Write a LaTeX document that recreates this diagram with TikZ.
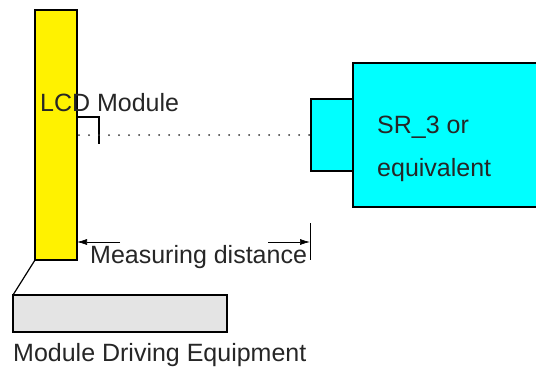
\documentclass[tikz,border=0pt]{standalone}
\usepackage{fontspec}
\setmainfont{Liberation Sans}
\usetikzlibrary{arrows.meta}
\definecolor{aqua}{RGB}{0,255,255}
\definecolor{panel}{RGB}{228,228,228}
\begin{document}
\begin{tikzpicture}[x=1pt,y=-1pt,
  box/.style={draw=black,line width=2pt,inner sep=0pt,outer sep=0pt},
  lbl/.style={inner sep=0pt,font=\fontsize{25}{30}\selectfont,text=black!85},
  dim/.style={line width=0.7pt,-{Latex[length=10pt,width=6pt]}}]
\useasboundingbox (0,0) rectangle (536,372);
% LCD module
\node[box,fill=yellow,minimum width=42pt,minimum height=250pt,anchor=north west] (lcd) at (35,10) {};
% driving equipment
\node[box,fill=panel,minimum width=214pt,minimum height=37pt,anchor=north west] (eq) at (13,295) {};
\draw[line width=1.2pt] (lcd.south west) -- (eq.north west);
% SR_3
\node[box,fill=aqua,minimum width=190pt,minimum height=144pt,anchor=north west] (sr) at (353,63) {};
\node[box,fill=aqua,minimum width=42pt,minimum height=72pt,anchor=north east] (lens) at (353,99) {};
% texts
\node[lbl,anchor=west] (tlcd) at (40,103) {LCD Module};
\node[lbl,anchor=west] (tsr1) at (377,127) {SR\_3 or};
\node[lbl,anchor=west] (tsr2) at (377,170) {equivalent};
\node[lbl,anchor=west] (teq) at (13,355) {Module Driving Equipment};
\node[lbl,anchor=west] (tmd) at (90,257) {Measuring distance};
% bracket
\coordinate (b1) at (77,117);
\coordinate (b2) at (99,144);
\draw[line width=1.2pt] (b1) -| (b2);
% dotted line
\coordinate (d1) at (79,135);
\draw[line width=2pt,line cap=round,dash pattern=on 0pt off 10pt,black!80] (d1) -- (lens.west |- d1);
% measuring arrows
\coordinate (tick1) at (310,223);
\coordinate (tick2) at (310,260);
\draw[line width=0.8pt] (tick1) -- (tick2);
\coordinate (al) at (120,242);
\coordinate (ar) at (268,242);
\draw[dim] (al) -- (lcd.east |- al);
\draw[dim] (ar) -- (tick1 |- ar);
\end{tikzpicture}
\end{document}
